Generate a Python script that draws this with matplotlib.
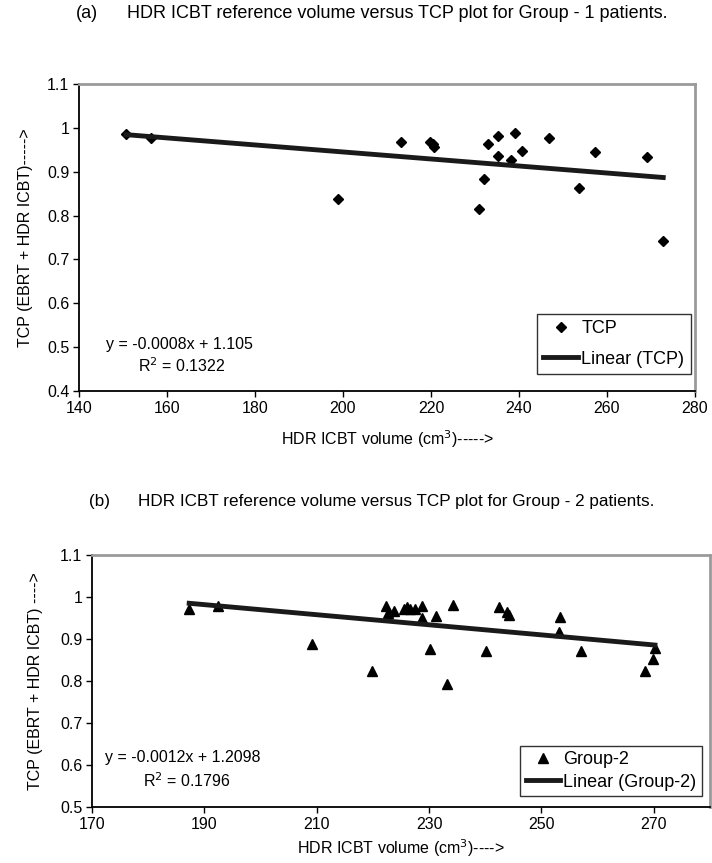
import numpy as np
import matplotlib
matplotlib.use("Agg")
import matplotlib.pyplot as plt
from matplotlib.ticker import FuncFormatter

plt.rcParams['font.family'] = ['Liberation Sans', 'DejaVu Sans']

# Group 1 (TCP) data
g1_vol = [150.7, 156.3, 198.8, 213.3, 219.7, 220.4, 220.8, 230.9, 232.0, 232.9,
          235.3, 235.2, 238.1, 239.0, 240.7, 246.8, 253.6, 257.4, 269.2, 272.8]
g1_tcp = [0.985, 0.977, 0.838, 0.968, 0.967, 0.964, 0.957, 0.814, 0.884, 0.963,
          0.982, 0.936, 0.927, 0.988, 0.948, 0.977, 0.862, 0.945, 0.933, 0.741]
g1_slope, g1_icpt, g1_r2 = -0.0008, 1.105, 0.1322

# Group 2 data
g2_vol = [187.3, 192.4, 209.1, 219.9, 222.3, 222.6, 223.8, 225.5, 226.1, 226.6,
          227.5, 228.8, 228.8, 230.1, 231.3, 233.1, 234.2, 240.2, 242.5, 243.9,
          244.3, 253.1, 253.3, 257.1, 268.5, 269.8, 270.2]
g2_tcp = [0.971, 0.979, 0.887, 0.824, 0.979, 0.963, 0.967, 0.972, 0.975, 0.972,
          0.972, 0.979, 0.951, 0.875, 0.955, 0.794, 0.980, 0.871, 0.975, 0.964,
          0.957, 0.917, 0.952, 0.871, 0.824, 0.853, 0.879]
g2_slope, g2_icpt, g2_r2 = -0.0012, 1.2098, 0.1796

fig = plt.figure(figsize=(7.12, 8.63), dpi=100)

def style_axes(ax):
    for s in ['top', 'right']:
        ax.spines[s].set_color('#9a9a9a')
        ax.spines[s].set_linewidth(2)
    for s in ['left', 'bottom']:
        ax.spines[s].set_color('black')
        ax.spines[s].set_linewidth(1.3)
    ax.tick_params(direction='out', length=4, width=1, labelsize=11.5, pad=3)
    ax.yaxis.set_major_formatter(FuncFormatter(lambda v, p: '%g' % round(v, 2)))


# ---- (a) group 1
ax1 = fig.add_axes([0.111, 0.5469, 0.865, 0.3558])
x = np.array(g1_vol)
ax1.plot(g1_vol, g1_tcp, 'D', color='black', markersize=5, label='TCP')
xl = np.array([x.min(), x.max()])
ax1.plot(xl, g1_slope * xl + g1_icpt, color='#1a1a1a', lw=3.5, label='Linear (TCP)')
ax1.set_xlim(140, 280)
ax1.set_ylim(0.4, 1.1)
ax1.set_xticks(np.arange(140, 281, 20))
ax1.set_yticks(np.arange(0.4, 1.101, 0.1))
style_axes(ax1)
ax1.set_xlabel('HDR ICBT volume (cm$^3$)----->', fontsize=11.5, labelpad=9)
ax1.set_ylabel('TCP (EBRT + HDR ICBT)----->', fontsize=11.5, labelpad=10)
ax1.text(146.1, 0.506, 'y = %.4fx + %.3f' % (g1_slope, g1_icpt), fontsize=11.5, va='center')
ax1.text(153.4, 0.458, 'R$^2$ = %.4f' % g1_r2, fontsize=11.5, va='center')
leg1 = ax1.legend(loc='lower right', bbox_to_anchor=(0.993, 0.055), fontsize=13,
                  frameon=True, fancybox=False, edgecolor='black', handlelength=1.9,
                  handletextpad=0.2, borderpad=0.35, labelspacing=0.75, borderaxespad=0)
leg1.get_frame().set_linewidth(1)

# ---- (b) group 2
ax2 = fig.add_axes([0.1292, 0.0649, 0.868, 0.292])
x2 = np.array(g2_vol)
ax2.plot(g2_vol, g2_tcp, '^', color='black', markersize=7, label='Group-2')
xl2 = np.array([x2.min(), x2.max()])
ax2.plot(xl2, g2_slope * xl2 + g2_icpt, color='#1a1a1a', lw=3.5, label='Linear (Group-2)')
ax2.set_xlim(170, 280)
ax2.set_ylim(0.5, 1.1)
ax2.set_xticks(np.arange(170, 271, 20))
ax2.set_yticks(np.arange(0.5, 1.101, 0.1))
style_axes(ax2)
ax2.set_xlabel('HDR ICBT volume (cm$^3$)---->', fontsize=11.5, labelpad=4)
ax2.set_ylabel('TCP (EBRT + HDR ICBT) ---->', fontsize=11.5, labelpad=12)
ax2.text(172.4, 0.617, 'y = %.4fx + %.4f' % (g2_slope, g2_icpt), fontsize=11.5, va='center')
ax2.text(179.0, 0.562, 'R$^2$ = %.4f' % g2_r2, fontsize=11.5, va='center')
leg2 = ax2.legend(loc='lower right', bbox_to_anchor=(0.987, 0.043), fontsize=13,
                  frameon=True, fancybox=False, edgecolor='black', handlelength=1.9,
                  handletextpad=0.2, borderpad=0.3, labelspacing=0.3, borderaxespad=0)
leg2.get_frame().set_linewidth(1)

# panel titles
fig.text(87 / 712, 1 - 14 / 863, '(a)', fontsize=13, ha='center', va='center')
fig.text(127 / 712, 1 - 14 / 863, 'HDR ICBT reference volume versus TCP plot for Group - 1 patients.',
         fontsize=13, ha='left', va='center')
fig.text(99 / 712, 1 - 501 / 863, '(b)', fontsize=12.3, ha='center', va='center')
fig.text(138 / 712, 1 - 501 / 863, 'HDR ICBT reference volume versus TCP plot for Group - 2 patients.',
         fontsize=12.3, ha='left', va='center')

fig.savefig('out.png', dpi=100)
